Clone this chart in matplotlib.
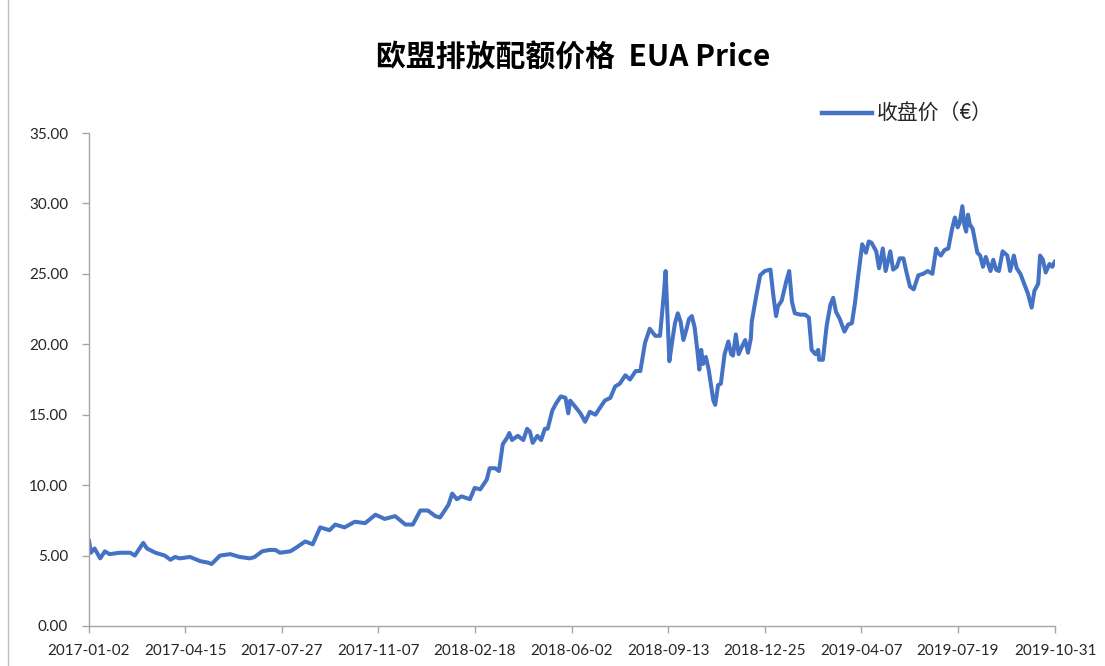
import numpy as np
import pandas as pd
import matplotlib
matplotlib.use("Agg")
import matplotlib.pyplot as plt
import matplotlib.dates as mdates
from matplotlib.lines import Line2D

plt.rcParams['font.family'] = ['Lato', 'Noto Sans CJK SC', 'DejaVu Sans']

# EUA closing price
dates = [
    "2017-01-02", "2017-01-04", "2017-01-08", "2017-01-14", "2017-01-19", "2017-01-24",
    "2017-02-04", "2017-02-15", "2017-02-20", "2017-03-01", "2017-03-05", "2017-03-14",
    "2017-03-24", "2017-03-30", "2017-04-04", "2017-04-09", "2017-04-20", "2017-05-01",
    "2017-05-09", "2017-05-13", "2017-05-22", "2017-06-02", "2017-06-12", "2017-06-23",
    "2017-06-28", "2017-07-06", "2017-07-14", "2017-07-20", "2017-07-25", "2017-08-05",
    "2017-08-10", "2017-08-21", "2017-08-29", "2017-09-06", "2017-09-11", "2017-09-16",
    "2017-09-22", "2017-10-02", "2017-10-13", "2017-10-24", "2017-11-04", "2017-11-14",
    "2017-11-25", "2017-12-06", "2017-12-14", "2017-12-22", "2017-12-30",
    "2018-01-07", "2018-01-12", "2018-01-21", "2018-01-25", "2018-01-30", "2018-02-04",
    "2018-02-13", "2018-02-18", "2018-02-24", "2018-03-03", "2018-03-06", "2018-03-12",
    "2018-03-16", "2018-03-20", "2018-03-25", "2018-03-27", "2018-03-30", "2018-04-05",
    "2018-04-11", "2018-04-15", "2018-04-18", "2018-04-21", "2018-04-26", "2018-04-30",
    "2018-05-04", "2018-05-07", "2018-05-12", "2018-05-16", "2018-05-21", "2018-05-26",
    "2018-05-29", "2018-05-31", "2018-06-05", "2018-06-11", "2018-06-16", "2018-06-21",
    "2018-06-27", "2018-07-02", "2018-07-07", "2018-07-13", "2018-07-18", "2018-07-23",
    "2018-07-29", "2018-08-03", "2018-08-09", "2018-08-14", "2018-08-19", "2018-08-24",
    "2018-08-30", "2018-09-04", "2018-09-08", "2018-09-10", "2018-09-12", "2018-09-14",
    "2018-09-17", "2018-09-20", "2018-09-23", "2018-09-26", "2018-09-29", "2018-10-02",
    "2018-10-05", "2018-10-08", "2018-10-11", "2018-10-14", "2018-10-16", "2018-10-18",
    "2018-10-20", "2018-10-23", "2018-10-26", "2018-10-31", "2018-11-02", "2018-11-05",
    "2018-11-08", "2018-11-12", "2018-11-16", "2018-11-19", "2018-11-21", "2018-11-24",
    "2018-11-27", "2018-12-01", "2018-12-04", "2018-12-07", "2018-12-10", "2018-12-11",
    "2018-12-16", "2018-12-20", "2018-12-25", "2018-12-31",
    "2019-01-03", "2019-01-06", "2019-01-08", "2019-01-12", "2019-01-17", "2019-01-20",
    "2019-01-23", "2019-01-26", "2019-02-01", "2019-02-06", "2019-02-10", "2019-02-13",
    "2019-02-17", "2019-02-20", "2019-02-21", "2019-02-25", "2019-03-01", "2019-03-05",
    "2019-03-08", "2019-03-11", "2019-03-15", "2019-03-20", "2019-03-24", "2019-03-28",
    "2019-03-31", "2019-04-04", "2019-04-08", "2019-04-12", "2019-04-15", "2019-04-18",
    "2019-04-23", "2019-04-26", "2019-04-30", "2019-05-03", "2019-05-08", "2019-05-11",
    "2019-05-15", "2019-05-18", "2019-05-22", "2019-05-25", "2019-05-29", "2019-06-02",
    "2019-06-07", "2019-06-12", "2019-06-17", "2019-06-22", "2019-06-26", "2019-06-28",
    "2019-07-01", "2019-07-05", "2019-07-09", "2019-07-13", "2019-07-16", "2019-07-19",
    "2019-07-21", "2019-07-24", "2019-07-26", "2019-07-28", "2019-07-30", "2019-08-01",
    "2019-08-04", "2019-08-09", "2019-08-12", "2019-08-15", "2019-08-18", "2019-08-23",
    "2019-08-26", "2019-08-29", "2019-09-01", "2019-09-05", "2019-09-10", "2019-09-13",
    "2019-09-17", "2019-09-20", "2019-09-24", "2019-09-28", "2019-10-02", "2019-10-06",
    "2019-10-09", "2019-10-13", "2019-10-15", "2019-10-18", "2019-10-21", "2019-10-25",
    "2019-10-28", "2019-10-31",
]
prices = [
    6.1, 5.2, 5.5, 4.8, 5.3, 5.1,
    5.2, 5.2, 5.0, 5.9, 5.5, 5.2,
    5.0, 4.7, 4.9, 4.8, 4.9, 4.6,
    4.5, 4.4, 5.0, 5.1, 4.9, 4.8,
    4.9, 5.3, 5.4, 5.4, 5.2, 5.3,
    5.5, 6.0, 5.8, 7.0, 6.9, 6.8,
    7.2, 7.0, 7.4, 7.3, 7.9, 7.6,
    7.8, 7.2, 7.2, 8.2, 8.2,
    7.8, 7.7, 8.6, 9.4, 9.0, 9.2,
    9.0, 9.8, 9.7, 10.4, 11.2, 11.2,
    11.0, 12.9, 13.4, 13.7, 13.2, 13.5,
    13.2, 14.0, 13.8, 13.0, 13.5, 13.2,
    14.0, 14.0, 15.3, 15.8, 16.3, 16.2,
    15.1, 16.0, 15.6, 15.1, 14.5, 15.2,
    15.0, 15.5, 16.0, 16.2, 17.0, 17.2,
    17.8, 17.5, 18.1, 18.1, 20.1, 21.1,
    20.6, 20.6, 23.5, 25.2, 22.0, 18.8,
    20.2, 21.5, 22.2, 21.6, 20.3, 21.0,
    21.8, 22.0, 21.2, 19.5, 18.2, 19.6,
    18.6, 19.1, 18.2, 16.0, 15.7, 17.1,
    17.2, 19.3, 20.2, 19.3, 19.2, 20.7,
    19.3, 19.9, 20.3, 19.4, 20.4, 21.6,
    23.5, 24.9, 25.2, 25.3,
    23.5, 22.0, 22.7, 23.1, 24.5, 25.2,
    23.0, 22.2, 22.1, 22.1, 21.9, 19.6,
    19.3, 19.6, 18.9, 18.9, 21.3, 22.8,
    23.3, 22.3, 21.8, 20.9, 21.4, 21.5,
    22.8, 25.0, 27.1, 26.5, 27.3, 27.2,
    26.6, 25.4, 26.8, 25.2, 26.6, 25.3,
    25.5, 26.1, 26.1, 25.2, 24.1, 23.9,
    24.9, 25.0, 25.2, 25.0, 26.8, 26.5,
    26.3, 26.7, 26.8, 28.2, 29.0, 28.3,
    28.6, 29.8, 28.5, 28.0, 29.2, 28.5,
    28.2, 26.5, 26.3, 25.5, 26.2, 25.2,
    26.0, 25.3, 25.2, 26.6, 26.3, 25.2,
    26.3, 25.4, 25.0, 24.3, 23.6, 22.6,
    23.8, 24.3, 26.3, 26.0, 25.1, 25.7,
    25.5, 25.9,
]

tick_labels = ["2017-01-02", "2017-04-15", "2017-07-27", "2017-11-07", "2018-02-18",
               "2018-06-02", "2018-09-13", "2018-12-25", "2019-04-07", "2019-07-19",
               "2019-10-31"]
y_ticks = [0, 5, 10, 15, 20, 25, 30, 35]

title = "欧盟排放配额价格  EUA Price"
series_name = "收盘价（€）"

x = pd.to_datetime(dates)
ticks = pd.to_datetime(tick_labels)

fig = plt.figure(figsize=(11.05, 6.66), dpi=100)
ax = fig.add_axes([0.0805, 0.0601, 0.8743, 0.7402])

line_color = "#4472C4"
ax.plot(x, prices, color=line_color, linewidth=2.9, solid_joinstyle="round",
        solid_capstyle="round")

ax.set_xlim(ticks[0], ticks[-1])
ax.set_ylim(0, 35)
ax.set_xticks(ticks)
ax.set_xticklabels(tick_labels)
ax.set_yticks(y_ticks)
ax.set_yticklabels([f"{v:.2f}" for v in y_ticks])

axis_gray = "#A6A6A6"
for side in ["top", "right"]:
    ax.spines[side].set_visible(False)
for side in ["left", "bottom"]:
    ax.spines[side].set_color(axis_gray)
    ax.spines[side].set_linewidth(1.0)
ax.tick_params(axis="both", colors=axis_gray, length=5, width=1.0,
               labelcolor="#262626", labelsize=11)
ax.tick_params(axis="x", pad=8)
ax.tick_params(axis="y", pad=10)

fig.text(0.519, 0.914, title, ha="center", va="center", fontsize=21.5,
         fontweight="bold", color="black",
         family=["Noto Sans CJK SC", "DejaVu Sans"])

handle = Line2D([0], [0], color=line_color, linewidth=3.2)
leg = fig.legend([handle], [series_name], loc="center left",
                 bbox_to_anchor=(0.727, 0.829), frameon=False, handlelength=2.4,
                 handletextpad=0.2, prop={"family": ["Noto Sans CJK SC"], "size": 15})
for t in leg.get_texts():
    t.set_color("#262626")

# chart area border (left edge visible in the reference crop)
fig.add_artist(Line2D([8 / 1105, 8 / 1105], [0, 1], transform=fig.transFigure,
                      color="#BFBFBF", linewidth=1.0))

fig.savefig("out.png", dpi=100, facecolor="white")
